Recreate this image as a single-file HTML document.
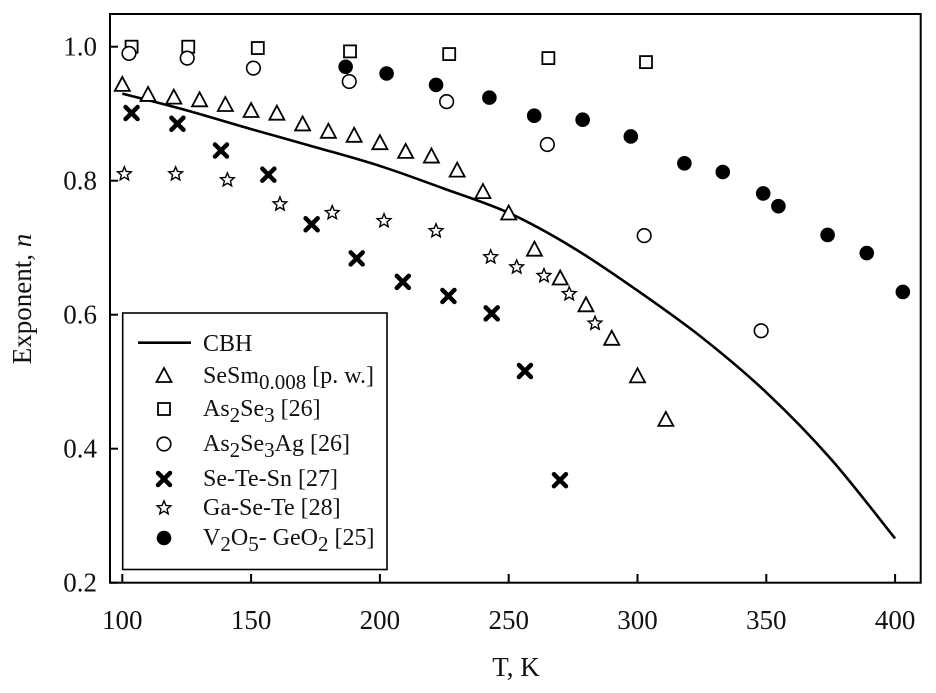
<!DOCTYPE html>
<html><head><meta charset="utf-8"><style>
html,body{margin:0;padding:0;background:#fff;}
svg{display:block;font-family:"Liberation Serif",serif;}
</style></head><body>
<svg id="chart" width="936" height="693" viewBox="0 0 936 693"></svg>
<script>
const xTicks=[100,150,200,250,300,350,400];
const yTicks=[0.2,0.4,0.6,0.8,1.0];
const yTickLabels=["0.2","0.4","0.6","0.8","1.0"];
const cbhT=[100,125,150,175,200,225,250,275,300,325,350,375,400];
const cbhN=[0.930,0.905,0.877,0.850,0.822,0.788,0.752,0.700,0.636,0.566,0.484,0.385,0.266];
const triT=[100,110,120,130,140,150,160,170,180,190,200,210,220,230,240,250,260,270,280,290,300,311];
const triN=[0.943,0.928,0.924,0.920,0.913,0.904,0.900,0.884,0.873,0.867,0.856,0.843,0.836,0.815,0.783,0.751,0.697,0.654,0.614,0.564,0.508,0.443];
const sqT=[103.6,125.6,152.6,188.4,226.9,265.4,303.3];
const sqN=[1.0,1.0,0.998,0.993,0.989,0.983,0.977];
const ocT=[102.6,125.2,150.9,188.1,225.9,265,302.6,348];
const ocN=[0.990,0.983,0.968,0.948,0.918,0.854,0.718,0.576];
const xT=[103.6,121.4,138.3,156.7,173.5,191,208.9,226.6,243.4,256.3,269.9];
const xN=[0.901,0.885,0.845,0.809,0.735,0.684,0.649,0.628,0.602,0.516,0.353];
const stT=[100.8,120.7,140.8,161.2,181.5,201.6,221.8,243,253.1,263.7,273.5,283.5];
const stN=[0.810,0.810,0.801,0.765,0.752,0.740,0.725,0.686,0.671,0.658,0.631,0.587];
const fcT=[186.7,202.6,221.8,242.5,259.9,278.7,297.4,318.2,333.1,348.8,354.7,373.8,389,403];
const fcN=[0.970,0.960,0.943,0.924,0.897,0.891,0.866,0.826,0.813,0.781,0.762,0.719,0.692,0.634];

const NS="http://www.w3.org/2000/svg";
const svg=document.getElementById('chart');
function X(t){return 122.3+(t-100)*2.576;}
function Y(v){return 46.7+(1-v)*670;}
function el(tag,attrs,parent){const e=document.createElementNS(NS,tag);for(const k in attrs)e.setAttribute(k,attrs[k]);(parent||svg).appendChild(e);return e;}

const frame=el('rect',{x:110,y:14,width:810.7,height:568.7,fill:'none',stroke:'#000','stroke-width':2});



xTicks.forEach(t=>{
  const l=el('line',{x1:X(t),x2:X(t),y1:582.7,y2:574,stroke:'#000','stroke-width':2});
  
  
  const tx=el('text',{x:X(t),y:629,'font-size':27,'text-anchor':'middle',fill:'#111'});
  tx.textContent=String(t);
  
  
});
yTicks.forEach((v,i)=>{
  const l=el('line',{x1:110,x2:118,y1:Y(v),y2:Y(v),stroke:'#000','stroke-width':2});
  
  
  const tx=el('text',{x:97,y:Y(v)+9,'font-size':27,'text-anchor':'end',fill:'#111'});
  tx.textContent=yTickLabels[i];
  
  
});
const xt=el('text',{x:516,y:676,'font-size':27,'text-anchor':'middle',fill:'#111'});
xt.textContent='T, K';


const yt=el('text',{x:0,y:0,'font-size':27,'text-anchor':'middle',fill:'#111',transform:'translate(31,299) rotate(-90)'});
yt.innerHTML='Exponent, <tspan font-style="italic">n</tspan>';



(function(){
  const p=cbhT.map((t,i)=>[X(t),Y(cbhN[i])]);
  let d='M'+p[0][0]+','+p[0][1];
  for(let i=0;i<p.length-1;i++){
    const p0=p[Math.max(0,i-1)],p1=p[i],p2=p[i+1],p3=p[Math.min(p.length-1,i+2)];
    const c1=[p1[0]+(p2[0]-p0[0])/6,p1[1]+(p2[1]-p0[1])/6];
    const c2=[p2[0]-(p3[0]-p1[0])/6,p2[1]-(p3[1]-p1[1])/6];
    d+=' C'+c1+' '+c2+' '+p2;
  }
  const c=el('path',{d:d,fill:'none',stroke:'#000','stroke-width':2.6});
  
  
})();

function marker(kind,cx,cy,parent){
  const g=el('g',{},parent);
  if(kind==='tri'){
    el('polygon',{points:`${cx-7.5},${cy+6} ${cx+7.5},${cy+6} ${cx},${cy-8}`,fill:'#fff',stroke:'#000','stroke-width':1.8},g);
  }else if(kind==='sq'){
    el('rect',{x:cx-6,y:cy-6,width:12,height:12,fill:'#fff',stroke:'#000','stroke-width':1.8},g);
  }else if(kind==='oc'){
    el('circle',{cx:cx,cy:cy,r:6.8,fill:'#fff',stroke:'#000','stroke-width':1.6},g);
  }else if(kind==='fc'){
    el('circle',{cx:cx,cy:cy,r:7.3,fill:'#000'},g);
  }else if(kind==='x'){
    el('path',{d:`M${cx-6},${cy-6}L${cx+6},${cy+6}M${cx+6},${cy-6}L${cx-6},${cy+6}`,stroke:'#000','stroke-width':4.5,'stroke-linecap':'round'},g);
  }else if(kind==='st'){
    let pts=[];for(let k=0;k<10;k++){const r=k%2?3.2:7.2;const a=-Math.PI/2+k*Math.PI/5;pts.push((cx+r*Math.cos(a)).toFixed(2)+','+(cy+r*Math.sin(a)).toFixed(2));}
    el('polygon',{points:pts.join(' '),fill:'#fff',stroke:'#000','stroke-width':1.4},g);
  }
  return g;
}
function series(kind,T,N,name){
  T.forEach((t,i)=>{
    const m=marker(kind,X(t),Y(N[i]));
    
    
  });
}
series('sq',sqT,sqN,'as2se3-point');
series('oc',ocT,ocN,'as2se3ag-point');
series('tri',triT,triN,'sesm-point');
series('x',xT,xN,'se-te-sn-point');
series('st',stT,stN,'ga-se-te-point');
series('fc',fcT,fcN,'v2o5-geo2-point');

const lg=el('g',{});


el('rect',{x:122.7,y:313,width:264.3,height:256.5,fill:'#fff',stroke:'#000','stroke-width':1.6},lg);
el('line',{x1:138,x2:191,y1:342.7,y2:342.7,stroke:'#000','stroke-width':2.6},lg);
const rows=[
 [null,343,'CBH'],
 ['tri',375,'SeSm<tspan font-size="21" dy="6">0.008</tspan><tspan dy="-6"> [p. w.]</tspan>'],
 ['sq',408,'As<tspan font-size="21" dy="6">2</tspan><tspan dy="-6">Se</tspan><tspan font-size="21" dy="6">3</tspan><tspan dy="-6"> [26]</tspan>'],
 ['oc',443,'As<tspan font-size="21" dy="6">2</tspan><tspan dy="-6">Se</tspan><tspan font-size="21" dy="6">3</tspan><tspan dy="-6">Ag [26]</tspan>'],
 ['x',478,'Se-Te-Sn [27]'],
 ['st',507,'Ga-Se-Te [28]'],
 ['fc',537,'V<tspan font-size="21" dy="6">2</tspan><tspan dy="-6">O</tspan><tspan font-size="21" dy="6">5</tspan><tspan dy="-6">- GeO</tspan><tspan font-size="21" dy="6">2</tspan><tspan dy="-6"> [25]</tspan>']
];
rows.forEach(r=>{
  if(r[0]){const m=marker(r[0],164,r[1]+1,lg);
    
    }
  const t=el('text',{x:203,y:r[1]+8,'font-size':24,fill:'#111'},lg);
  t.innerHTML=r[2];
  
  
});
</script>
</body></html>
